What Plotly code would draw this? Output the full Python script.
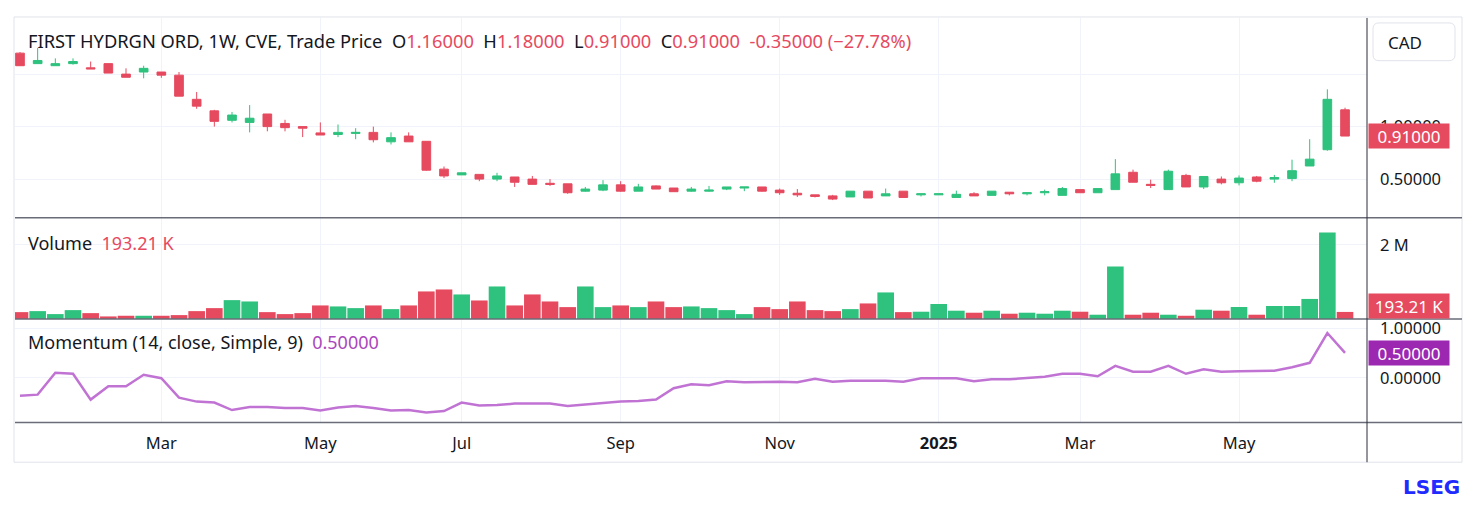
import pandas as pd
import plotly.graph_objects as go

# ---------------- data ----------------
first_week = "2024-01-08"
n_weeks = 76

opens = [1.70, 1.60, 1.58, 1.60, 1.56, 1.60, 1.50, 1.52, 1.52, 1.49,
         1.26, 1.15, 1.06, 1.04, 1.12, 1.03, 1.00, 0.94, 0.925, 0.935,
         0.945, 0.855, 0.91, 0.86, 0.595, 0.54, 0.545, 0.50, 0.52, 0.50,
         0.46, 0.455, 0.385, 0.395, 0.445, 0.385, 0.435, 0.415, 0.385, 0.385,
         0.405, 0.415, 0.425, 0.395, 0.365, 0.35, 0.34, 0.33, 0.385, 0.34,
         0.385, 0.35, 0.35, 0.325, 0.36, 0.345, 0.375, 0.36, 0.37, 0.345,
         0.40, 0.37, 0.40, 0.565, 0.45, 0.40, 0.535, 0.425, 0.50, 0.465,
         0.52, 0.50, 0.505, 0.625, 0.78, 1.16]
highs = [1.71, 1.75, 1.65, 1.65, 1.62, 1.60, 1.555, 1.58, 1.52, 1.52,
         1.33, 1.16, 1.14, 1.205, 1.12, 1.065, 1.00, 1.04, 1.02, 0.985,
         1.00, 0.945, 0.945, 0.86, 0.62, 0.56, 0.545, 0.56, 0.52, 0.53,
         0.50, 0.455, 0.425, 0.49, 0.48, 0.455, 0.44, 0.415, 0.425, 0.435,
         0.425, 0.425, 0.425, 0.41, 0.405, 0.35, 0.35, 0.385, 0.385, 0.41,
         0.385, 0.36, 0.36, 0.39, 0.375, 0.385, 0.375, 0.37, 0.40, 0.425,
         0.40, 0.41, 0.69, 0.59, 0.495, 0.59, 0.55, 0.525, 0.525, 0.535,
         0.53, 0.54, 0.685, 0.88, 1.355, 1.18]
lows = [1.58, 1.60, 1.58, 1.59, 1.55, 1.51, 1.47, 1.46, 1.465, 1.29,
        1.17, 1.00, 1.04, 0.945, 0.955, 0.955, 0.90, 0.92, 0.90, 0.88,
        0.85, 0.83, 0.855, 0.58, 0.51, 0.54, 0.48, 0.48, 0.425, 0.45,
        0.435, 0.36, 0.38, 0.385, 0.38, 0.385, 0.405, 0.38, 0.38, 0.38,
        0.395, 0.385, 0.38, 0.35, 0.33, 0.325, 0.30, 0.33, 0.32, 0.34,
        0.325, 0.335, 0.35, 0.325, 0.34, 0.345, 0.345, 0.345, 0.345, 0.345,
        0.37, 0.37, 0.40, 0.47, 0.415, 0.40, 0.425, 0.405, 0.45, 0.44,
        0.47, 0.465, 0.48, 0.625, 0.77, 0.91]
closes = [1.58, 1.63, 1.60, 1.62, 1.55, 1.51, 1.47, 1.555, 1.49, 1.29,
          1.195, 1.05, 1.11, 1.08, 1.00, 0.99, 0.985, 0.92, 0.945, 0.945,
          0.875, 0.895, 0.855, 0.585, 0.53, 0.56, 0.50, 0.53, 0.47, 0.45,
          0.45, 0.37, 0.405, 0.445, 0.385, 0.425, 0.405, 0.38, 0.405, 0.395,
          0.425, 0.425, 0.385, 0.37, 0.35, 0.335, 0.31, 0.385, 0.32, 0.36,
          0.325, 0.36, 0.36, 0.355, 0.34, 0.385, 0.36, 0.37, 0.38, 0.41,
          0.37, 0.41, 0.55, 0.47, 0.44, 0.575, 0.425, 0.525, 0.465, 0.51,
          0.48, 0.515, 0.58, 0.69, 1.26, 0.91]

volumes = [188e3, 215e3, 135e3, 242e3, 161e3, 72e3, 90e3, 90e3, 90e3, 108e3,
           215e3, 296e3, 511e3, 475e3, 188e3, 135e3, 161e3, 368e3, 341e3, 296e3,
           368e3, 269e3, 368e3, 745e3, 798e3, 664e3, 502e3, 879e3, 368e3, 664e3,
           475e3, 323e3, 879e3, 323e3, 368e3, 323e3, 475e3, 323e3, 341e3, 296e3,
           242e3, 135e3, 323e3, 269e3, 475e3, 242e3, 215e3, 269e3, 422e3, 718e3,
           188e3, 199e3, 407e3, 226e3, 172e3, 226e3, 145e3, 172e3, 145e3, 226e3,
           199e3, 118e3, 1420e3, 118e3, 172e3, 118e3, 90e3, 253e3, 226e3, 326e3,
           118e3, 353e3, 353e3, 543e3, 2330e3, 193.21e3]

momentum = [-0.36, -0.34, 0.10, 0.08, -0.44, -0.17, -0.17, 0.06, -0.01, -0.40,
            -0.48, -0.50, -0.65, -0.59, -0.59, -0.61, -0.61, -0.66, -0.60, -0.57,
            -0.61, -0.66, -0.65, -0.70, -0.67, -0.50, -0.56, -0.55, -0.52, -0.52,
            -0.52, -0.57, -0.54, -0.50, -0.48, -0.47, -0.44, -0.21, -0.13, -0.15,
            -0.07, -0.09, -0.08, -0.08, -0.09, -0.02, -0.08, -0.06, -0.06, -0.06,
            -0.08, -0.01, -0.01, -0.01, -0.07, -0.03, -0.03, -0.01, 0.02, 0.08,
            0.08, 0.03, 0.24, 0.12, 0.12, 0.24, 0.08, 0.17, 0.12, 0.13,
            0.13, 0.14, 0.21, 0.30, 0.90, 0.50]

tick_dates = ["2024-03-04", "2024-05-06", "2024-07-01", "2024-09-02",
              "2024-11-04", "2025-01-06", "2025-03-03", "2025-05-05"]
tick_labels = ["Mar", "May", "Jul", "Sep", "Nov", "<b>2025</b>", "Mar", "May"]

dates = pd.date_range(first_week, periods=n_weeks, freq="7D")

# ---------------- styling ----------------
# the page body has an 8px margin, so the figure is a bit smaller than the window
OFF = 8
W, H = 1476 - 2 * OFF, 507 - 2 * OFF
GREEN = "#2ec27e"
RED = "#e64a5f"
PURPLE = "#c173d4"
TEXT = "#131722"
GRID = "#f0f3fa"
FONT = "Noto Sans"


def fx(p):
    return (p - OFF) / W


def fy(p):
    return 1 - (p - OFF) / H


vol_colors = [GREEN if c >= o else RED for o, c in zip(opens, closes)]

fig = go.Figure()

fig.add_trace(go.Candlestick(
    x=dates, open=opens, high=highs, low=lows, close=closes,
    increasing=dict(line=dict(color=GREEN, width=1), fillcolor=GREEN),
    decreasing=dict(line=dict(color=RED, width=1), fillcolor=RED),
    xaxis="x", yaxis="y", hoverinfo="skip"))

fig.add_trace(go.Bar(
    x=dates, y=volumes, marker=dict(color=vol_colors, line=dict(width=0)),
    xaxis="x2", yaxis="y2"))

fig.add_trace(go.Scatter(
    x=dates, y=momentum, mode="lines", line=dict(color=PURPLE, width=2.5),
    xaxis="x3", yaxis="y3"))

x_range = ["2024-01-06 00:30", "2025-06-24 17:00"]
x_dom = [fx(15), fx(1367)]
xcommon = dict(domain=x_dom, range=x_range, type="date", tickvals=tick_dates,
               ticktext=tick_labels, showgrid=True, gridcolor=GRID, zeroline=False,
               showline=False, ticks="", fixedrange=True)
ycommon = dict(side="right", showgrid=True, gridcolor=GRID, zeroline=False,
               showline=False, ticks="", ticklabelstandoff=12,
               tickfont=dict(size=16.5, color=TEXT))

fig.update_layout(
    width=W, height=H, margin=dict(l=0, r=0, t=0, b=0),
    paper_bgcolor="white", plot_bgcolor="white", showlegend=False,
    font=dict(family=FONT, color=TEXT), bargap=0.06,
    xaxis=dict(xcommon, anchor="y", showticklabels=False,
               rangeslider=dict(visible=False)),
    xaxis2=dict(xcommon, anchor="y2", showticklabels=False),
    xaxis3=dict(xcommon, anchor="y3", showticklabels=True, ticklabelstandoff=9,
                tickfont=dict(size=16.5, color=TEXT)),
    yaxis=dict(ycommon, anchor="x", domain=[fy(216), fy(15)], range=[0.132, 2.035],
               tickvals=[0.5, 1.0, 1.5], ticktext=["0.50000", "1.00000", ""]),
    yaxis2=dict(ycommon, anchor="x2", domain=[fy(318), fy(216)], range=[0, 2.73e6],
                tickvals=[2e6], ticktext=["2 M"]),
    yaxis3=dict(ycommon, anchor="x3", domain=[fy(422), fy(318)], range=[-0.90, 1.18],
                tickvals=[0, 1], ticktext=["0.00000", "1.00000"]),
)

# frame, separators and axis line
shapes = [
    dict(type="rect", xref="paper", yref="paper", x0=fx(14), x1=fx(1462),
         y0=fy(462), y1=fy(14), line=dict(color="#e0e3eb", width=1), layer="below"),
    dict(type="line", xref="paper", yref="paper", x0=fx(15), x1=fx(1462),
         y0=fy(216), y1=fy(216), line=dict(color="#6a6d78", width=1.5)),
    dict(type="line", xref="paper", yref="paper", x0=fx(15), x1=fx(1462),
         y0=fy(318), y1=fy(318), line=dict(color="#6a6d78", width=1.5)),
    dict(type="line", xref="paper", yref="paper", x0=fx(15), x1=fx(1462),
         y0=fy(422), y1=fy(422), line=dict(color="#6a6d78", width=1.5)),
    dict(type="line", xref="paper", yref="paper", x0=fx(1367), x1=fx(1367),
         y0=fy(462), y1=fy(15), line=dict(color="#2a2e39", width=1)),
]

# CAD button (rounded rectangle)
bx0, bx1, by0, by1, r = 1373, 1455, 20, 58, 6
rx, ry = r / W, r / H
X0, X1, Y0, Y1 = fx(bx0), fx(bx1), fy(by1), fy(by0)
path = (f"M {X0 + rx},{Y0} L {X1 - rx},{Y0} Q {X1},{Y0} {X1},{Y0 + ry} "
        f"L {X1},{Y1 - ry} Q {X1},{Y1} {X1 - rx},{Y1} L {X0 + rx},{Y1} "
        f"Q {X0},{Y1} {X0},{Y1 - ry} L {X0},{Y0 + ry} Q {X0},{Y0} {X0 + rx},{Y0} Z")
shapes.append(dict(type="path", xref="paper", yref="paper", path=path,
                   line=dict(color="#e0e3eb", width=1), fillcolor="white"))
fig.update_layout(shapes=shapes)

sp = "\u00a0"
chg = closes[-1] - closes[-2]
pct = chg / closes[-2] * 100


def red(s):
    return f"<span style='color:{RED}'>{s}</span>"


title = ("FIRST HYDRGN ORD, 1W, CVE, Trade Price" + sp * 2
         + "O" + red(f"{opens[-1]:.5f}") + sp * 2
         + "H" + red(f"{highs[-1]:.5f}") + sp * 2
         + "L" + red(f"{lows[-1]:.5f}") + sp * 2
         + "C" + red(f"{closes[-1]:.5f}") + sp * 2
         + red(f"{chg:.5f}" + sp + f"(\u2212{abs(pct):.2f}%)"))

vol_k = f"{volumes[-1] / 1000:.2f}" + sp + "K"

annotations = [
    dict(text=title, x=fx(26), y=fy(38), font=dict(size=18.3, color=TEXT)),
    dict(text="Volume" + sp * 2 + red(vol_k), x=fx(26), y=fy(241),
         font=dict(size=18, color=TEXT)),
    dict(text="Momentum (14, close, Simple, 9)" + sp * 2
         + f"<span style='color:#ab47bc'>{momentum[-1]:.5f}</span>",
         x=fx(26), y=fy(341), font=dict(size=18, color=TEXT)),
    dict(text="CAD", x=fx(1386), y=fy(40), font=dict(size=17, color=TEXT)),
]
for a in annotations:
    a.update(xref="paper", yref="paper", xanchor="left", yanchor="middle",
             showarrow=False)

# last value labels on the right axis
label = dict(xref="paper", x=fx(1368), xanchor="left", yanchor="middle",
             showarrow=False, width=78, height=22, borderpad=1)
annotations += [
    dict(label, text=f"{closes[-1]:.5f}", yref="y", y=closes[-1], bgcolor=RED,
         font=dict(size=17, color="white")),
    dict(label, text=vol_k, yref="y2", y=volumes[-1], yshift=6, bgcolor=RED,
         font=dict(size=17, color="white")),
    dict(label, text=f"{momentum[-1]:.5f}", yref="y3", y=momentum[-1],
         bgcolor="#9c27b0", font=dict(size=17, color="white")),
    dict(text="<b>LSEG</b>", xref="paper", yref="paper", x=fx(1462), y=fy(487),
         xanchor="right", yanchor="middle", showarrow=False,
         font=dict(size=20, color="#1f2bff", family="DejaVu Sans")),
]
fig.update_layout(annotations=annotations)

fig.write_html("out.html")
